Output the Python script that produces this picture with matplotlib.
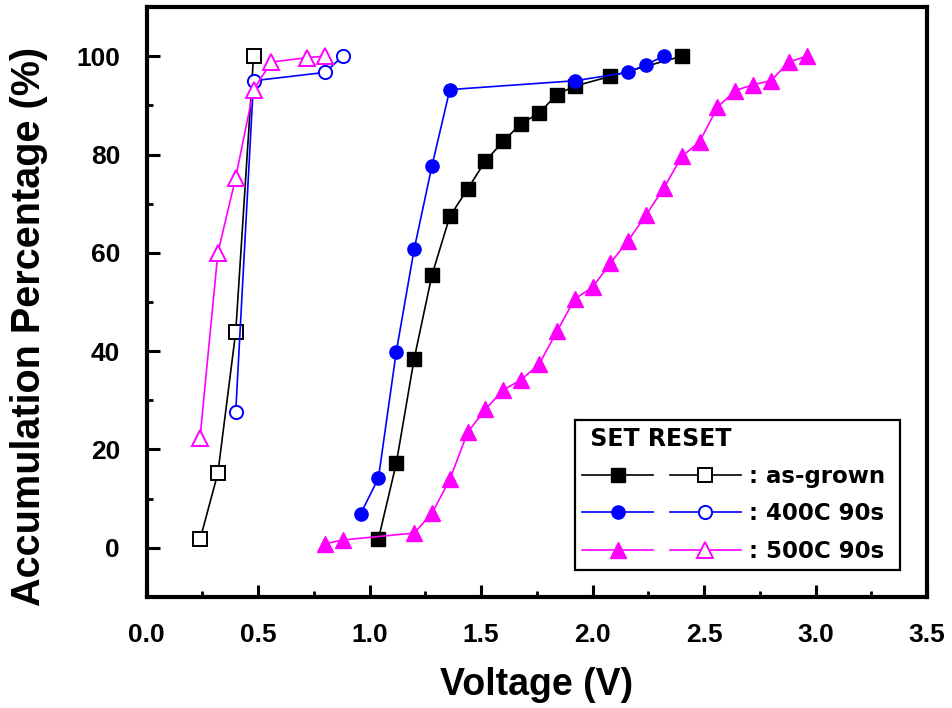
import matplotlib
matplotlib.use("Agg")
import matplotlib.pyplot as plt
from matplotlib.legend_handler import HandlerTuple
from matplotlib.ticker import MultipleLocator, FormatStrFormatter

# SET (filled markers) voltage distributions
set_asgrown_v = [1.04, 1.12, 1.20, 1.28, 1.36, 1.44, 1.52, 1.60, 1.68, 1.76, 1.84, 1.92, 2.08, 2.40]
set_asgrown_p = [1.8, 17.2, 38.4, 55.5, 67.4, 73.0, 78.7, 82.7, 86.3, 88.4, 92.2, 93.9, 95.9, 100.0]

set_400_v = [0.96, 1.04, 1.12, 1.20, 1.28, 1.36, 1.92, 2.16, 2.24, 2.32]
set_400_p = [6.9, 14.2, 39.9, 60.7, 77.7, 93.2, 95.0, 96.7, 98.3, 100.0]

set_500_v = [0.80, 0.88, 1.20, 1.28, 1.36, 1.44, 1.52, 1.60, 1.68, 1.76, 1.84, 1.92,
             2.00, 2.08, 2.16, 2.24, 2.32, 2.40, 2.48, 2.56, 2.64, 2.72, 2.80, 2.88, 2.96]
set_500_p = [0.8, 1.6, 3.0, 7.0, 13.9, 23.5, 28.2, 32.1, 34.2, 37.3, 44.0, 50.6,
             53.0, 57.9, 62.5, 67.7, 73.2, 79.6, 82.6, 89.6, 93.0, 94.2, 95.0, 98.8, 100.0]

# RESET (open markers) voltage distributions
reset_asgrown_v = [0.24, 0.32, 0.40, 0.48]
reset_asgrown_p = [1.7, 15.2, 43.9, 100.0]

reset_400_v = [0.40, 0.48, 0.80, 0.88]
reset_400_p = [27.6, 95.0, 96.7, 100.0]

reset_500_v = [0.24, 0.32, 0.40, 0.48, 0.56, 0.72, 0.80]
reset_500_p = [22.4, 60.0, 75.3, 93.2, 98.8, 99.7, 100.0]

labels = [": as-grown ", ": 400C 90s ", ": 500C 90s "]
colors = ["#000000", "#0000ff", "#ff00ff"]
markers = ["s", "o", "^"]
msizes = [9.5, 9.5, 11.5]

fig = plt.figure(figsize=(9.52, 7.08), dpi=100)
ax = fig.add_axes([0.1539, 0.1568, 0.8199, 0.8333])

set_data = [(set_asgrown_v, set_asgrown_p), (set_400_v, set_400_p), (set_500_v, set_500_p)]
reset_data = [(reset_asgrown_v, reset_asgrown_p), (reset_400_v, reset_400_p), (reset_500_v, reset_500_p)]

handles = []
for (sv, sp), (rv, rp), c, m, ms in zip(set_data, reset_data, colors, markers, msizes):
    h_set, = ax.plot(sv, sp, color=c, lw=1.2, marker=m, ms=ms,
                     markerfacecolor=c, markeredgecolor=c, markeredgewidth=1.0)
    h_reset, = ax.plot(rv, rp, color=c, lw=1.2, marker=m, ms=ms,
                       markerfacecolor="white", markeredgecolor=c, markeredgewidth=1.4)
    handles.append((h_set, h_reset))

ax.set_xlim(0, 3.5)
ax.set_ylim(-10, 110)
ax.xaxis.set_major_locator(MultipleLocator(0.5))
ax.xaxis.set_minor_locator(MultipleLocator(0.25))
ax.yaxis.set_major_locator(MultipleLocator(20))
ax.yaxis.set_minor_locator(MultipleLocator(10))
ax.xaxis.set_major_formatter(FormatStrFormatter("%.1f"))

for s in ax.spines.values():
    s.set_linewidth(3)
ax.tick_params(which="major", direction="in", length=9, width=2.2,
               top=False, right=False)
ax.tick_params(axis="x", which="major", pad=19)
ax.tick_params(axis="y", which="major", pad=19)
ax.tick_params(which="minor", direction="in", length=4.5, width=2,
               top=False, right=False)
for lab in ax.get_xticklabels() + ax.get_yticklabels():
    lab.set_fontfamily("Liberation Sans")
    lab.set_fontweight("bold")
    lab.set_fontsize(19)

ax.set_xlabel("Voltage (V)", fontfamily="Liberation Sans", fontweight="bold",
              fontsize=27, labelpad=14)
ax.set_ylabel("Accumulation Percentage (%)", fontfamily="Liberation Sans",
              fontweight="bold", fontsize=28.5, labelpad=20)
ax.yaxis.label.set_y(0.458)

leg = ax.legend(handles, labels, loc="lower right", bbox_to_anchor=(0.9654, 0.0458),
                borderaxespad=0, numpoints=1, handlelength=6.9,
                handler_map={tuple: HandlerTuple(ndivide=None, pad=0.7)},
                handletextpad=0.35, labelspacing=0.62, borderpad=0.32,
                title=" SET RESET", fancybox=False, framealpha=1, edgecolor="black",
                prop={"family": "DejaVu Sans", "weight": "bold", "size": 16.5},
                title_fontproperties={"family": "DejaVu Sans", "weight": "bold", "size": 17},
                alignment="left")
leg.get_frame().set_linewidth(1.6)

fig.savefig("out.png", dpi=100, facecolor="white")
